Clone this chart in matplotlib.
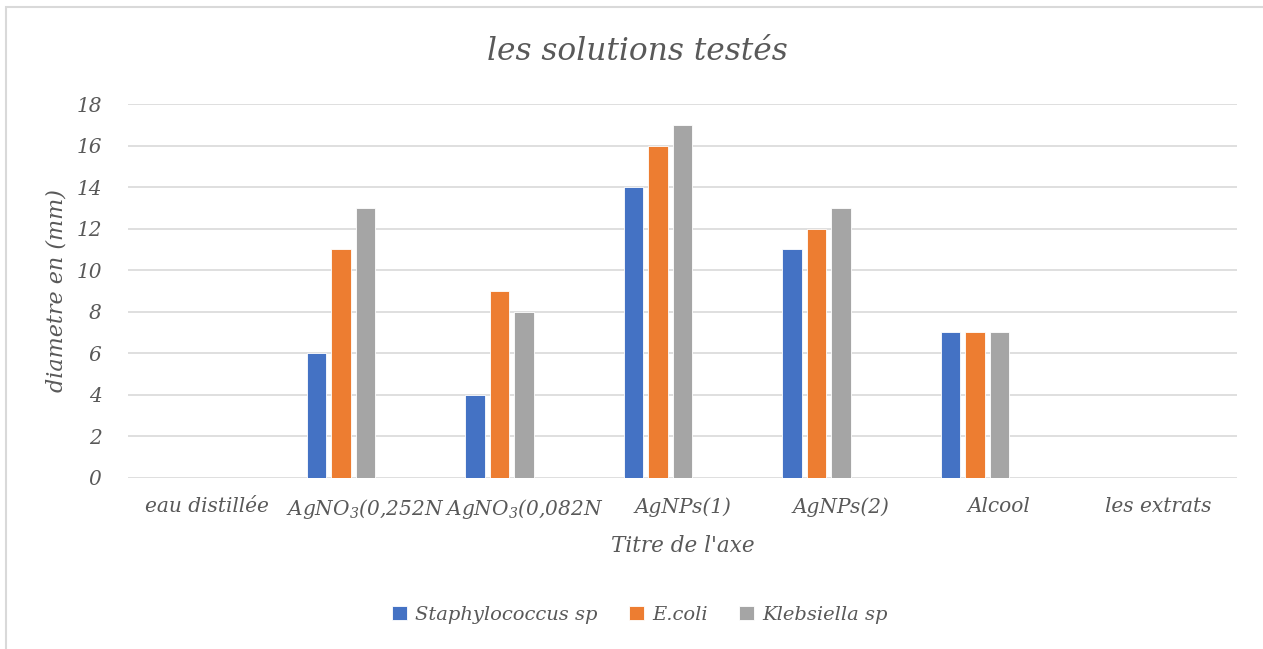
import matplotlib
matplotlib.use("Agg")
import matplotlib.pyplot as plt
from matplotlib.patches import Rectangle
import numpy as np

categories = ["eau distillée", "AgNO$_3$(0,252N", "AgNO$_3$(0,082N",
              "AgNPs(1)", "AgNPs(2)", "Alcool", "les extrats"]
series_names = ["Staphylococcus sp", "E.coli", "Klebsiella sp"]
staph = [0, 6, 4, 14, 11, 7, 0]
ecoli = [0, 11, 9, 16, 12, 7, 0]
kleb = [0, 13, 8, 17, 13, 7, 0]
colors = ["#4472C4", "#ED7D31", "#A5A5A5"]
yticks = [0, 2, 4, 6, 8, 10, 12, 14, 16, 18]

FONT = "DejaVu Serif"
TXT = "#595959"
plt.rcParams["mathtext.fontset"] = "custom"
plt.rcParams["mathtext.rm"] = FONT + ":italic"
plt.rcParams["mathtext.it"] = FONT + ":italic"
plt.rcParams["font.family"] = FONT

W, H = 1263, 649
fig = plt.figure(figsize=(W / 100, H / 100), dpi=100)
fig.patch.set_facecolor("white")

# outer chart border
fig.add_artist(Rectangle((5.5 / W, -0.1), 1.2, 1 - 7.0 / H + 0.1,
                         transform=fig.transFigure, fill=False,
                         edgecolor="#D9D9D9", linewidth=1.5))

x0, x1 = 128 / W, 1237 / W
yb, yt = 1 - 477.7 / H, 1 - 104 / H
ax = fig.add_axes([x0, yb, x1 - x0, yt - yb])

x = np.arange(len(categories))
slot = 0.1547
bw = 0.122
for k, (vals, name, c) in enumerate(zip([staph, ecoli, kleb], series_names, colors)):
    ax.bar(x + (k - 2) * slot, vals, width=bw, color=c, label=name,
           edgecolor="white", linewidth=0.6, zorder=3)

ax.set_xlim(-0.5, len(categories) - 0.5)
ax.set_ylim(0, 18)
ax.set_yticks(yticks)
ax.set_yticklabels([str(v) for v in yticks])
ax.set_xticks(x)
ax.set_xticklabels(categories)
ax.grid(axis="y", color="#D9D9D9", linewidth=1.2, zorder=0)
for s in ax.spines.values():
    s.set_visible(False)
ax.tick_params(axis="both", length=0, colors=TXT)
ax.tick_params(axis="y", pad=19)
ax.tick_params(axis="x", pad=14)
for lab in ax.get_yticklabels():
    lab.set_fontstyle("italic")
    lab.set_fontsize(14.5)
    lab.set_color(TXT)
for lab in ax.get_xticklabels():
    lab.set_fontstyle("italic")
    lab.set_fontsize(14.5)
    lab.set_color(TXT)

ax.set_xlabel("Titre de l'axe", fontsize=15.5, fontstyle="italic", color=TXT, labelpad=10)
ax.set_ylabel("diametre en (mm)", fontsize=16, fontstyle="italic", color=TXT, labelpad=6)

fig.text(637 / W, 1 - 52 / H, "les solutions testés", ha="center", va="center",
         fontsize=22.5, fontstyle="italic", color=TXT)

leg = fig.legend(loc="center", bbox_to_anchor=(640 / W, 1 - 615 / H), ncol=3,
                 frameon=False, handlelength=0.75, handleheight=0.75,
                 handletextpad=0.45, columnspacing=1.6,
                 prop={"family": FONT, "style": "italic", "size": 14})
for t in leg.get_texts():
    t.set_color(TXT)

fig.savefig("out.png", dpi=100)
